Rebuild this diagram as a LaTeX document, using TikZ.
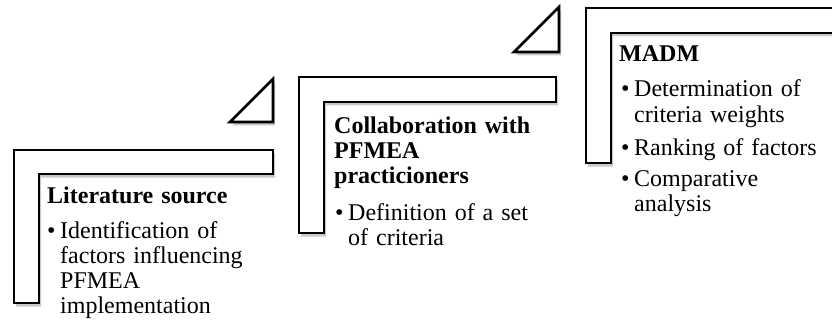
\documentclass[tikz,border=0pt]{standalone}
\usepackage{fontspec}
\setmainfont{Liberation Serif}
\usetikzlibrary{shadows}

\newcommand{\widespace}{\spaceskip=.33em plus .1em\relax}
\newcommand{\bulitem}[1]{\makebox[13pt][l]{\textbullet}\parbox[t]{200pt}{\widespace #1}}
\newcommand{\toplines}[1]{\parbox[t]{230pt}{\widespace #1}}

\begin{document}
\begin{tikzpicture}
[x=1pt,y=-1pt,
stepbox/.style={draw=black,line width=2.8pt,fill=white,line join=miter,
  drop shadow={shadow xshift=2pt,shadow yshift=-3.5pt,opacity=.3,fill=black!70}},
steptri/.style={stepbox},
title/.style={anchor=base west,inner sep=0pt,
  font=\fontsize{24}{25.5}\selectfont\bfseries\widespace},
items/.style={anchor=base west,inner sep=0pt,
  font=\fontsize{24}{25}\selectfont\widespace}
]
\useasboundingbox (0,0) rectangle (832,326);
%\draw[red] (0,0) rectangle (832,326);

% steps
\path[stepbox] (14,150) -- (273,150) -- (273,174) -- (39,174) -- (39,303) -- (14,303) -- cycle;
\path[stepbox] (299,77) -- (556,77) -- (556,102) -- (324,102) -- (324,233) -- (299,233) -- cycle;
\path[stepbox] (586,8) -- (840,8) -- (840,33) -- (611,33) -- (611,163) -- (586,163) -- cycle;

% triangles
\path[steptri] (230,122) -- (273,122) -- (273,79) -- cycle;
\path[steptri] (514,52) -- (559,52) -- (559,7) -- cycle;

% texts
\node[title] (lit) at (47,203) {Literature source};
\node[items] (lit1) at (47,238) {\bulitem{Identification of\\factors influencing\\PFMEA\\implementation}};

\node[title] (col) at (334,133) {\toplines{Collaboration with\\PFMEA\\practicioners}};
\node[items] (col1) at (335,220) {\bulitem{Definition of a set\\of criteria}};

\node[title] (madm) at (619,62) {MADM};
\node[items] (madm1) at (621,97) {\bulitem{Determination of\\criteria weights}};
\node[items] (madm2) at (621,155) {\bulitem{Ranking of factors}};
\node[items] (madm3) at (621,186) {\bulitem{Comparative\\analysis}};
\end{tikzpicture}
\end{document}
